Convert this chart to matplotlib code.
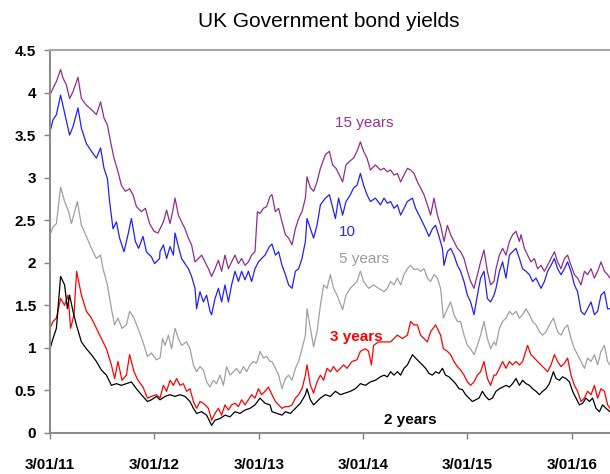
import numpy as np
import pandas as pd
import matplotlib
matplotlib.use('Agg')
import matplotlib.pyplot as plt

plt.rcParams['font.family'] = ['Liberation Sans', 'DejaVu Sans']

# x positions are weeks after 3 Jan 2011
wk_15 = [0.0, 1.5, 3.2, 5.3, 6.5, 8.2, 9.8, 11.5, 14.0, 15.7, 18.2, 20.7, 23.2, 25.3, 27.0, 28.7, 30.3, 32.0, 34.0, 35.7,
         37.7, 39.8, 41.5, 43.2, 45.7, 47.7, 49.8, 52.0, 54.0,
         55.0, 56.7, 58.3, 60.0, 61.3, 62.5, 64.2, 65.8, 67.5, 69.2, 70.8, 72.5, 74.2, 75.8, 77.5, 79.2, 80.8, 82.5,
         84.2, 85.8, 87.5, 89.2, 90.8, 92.5, 94.2, 95.8, 97.5, 99.2, 100.8, 102.5, 103.7, 105.0, 106.7, 108.3, 110.0,
         111.0, 112.7, 114.3, 116.0, 117.7, 119.3, 121.0, 122.7, 124.3, 126.0, 127.7, 128.5, 130.2, 131.8, 133.5,
         135.2, 137.7, 139.7, 141.3, 143.0, 144.7, 146.3, 148.0, 149.7, 151.8, 153.5, 155.2, 156.8, 158.5, 160.2,
         162.7, 165.2,
         167.0, 168.7, 170.3, 172.0, 173.7, 175.3, 177.0, 178.7, 180.3, 182.0, 183.7, 185.3, 187.0, 188.7, 190.3,
         192.0, 193.7, 195.3, 197.0, 198.7, 200.3, 202.0, 203.7, 205.3, 207.0, 208.7, 210.3, 212.0, 213.7, 215.3,
         217.0, 218.7, 220.3, 222.0,
         223.0, 224.7, 226.3, 228.0, 229.7, 231.3, 233.0, 234.7, 235.5, 237.2, 238.8, 240.5, 242.2, 243.8, 245.5,
         247.2, 248.8, 250.5, 252.2, 253.8, 255.5, 257.2, 258.8, 260.5, 262.2, 263.8, 265.5, 267.2, 268.8, 270.5,
         272.2, 273.8, 275.5, 277.2, 278.8, 280.0]
y_15 = [3.97, 4.05, 4.13, 4.27, 4.17, 4.09, 3.93, 4.01, 4.18, 3.93, 3.85, 3.80, 3.74, 3.89, 3.70, 3.62, 3.42, 3.23, 3.07, 2.91,
        2.84, 2.87, 2.80, 2.66, 2.60, 2.64, 2.46, 2.37, 2.35,
        2.40, 2.48, 2.62, 2.46, 2.60, 2.76, 2.56, 2.48, 2.40, 2.29, 2.21, 2.01, 2.05, 2.09, 2.01, 1.93, 1.84, 1.93,
        2.03, 1.90, 2.09, 1.93, 2.01, 2.09, 1.99, 2.05, 1.97, 2.01, 2.09, 2.13, 2.60, 2.58, 2.64, 2.66, 2.78,
        2.80, 2.60, 2.64, 2.48, 2.33, 2.29, 2.21, 2.40, 2.52, 2.60, 2.76, 3.01, 2.88, 2.84, 2.95,
        3.11, 3.27, 3.31, 3.15, 3.11, 3.03, 2.95, 3.15, 3.19, 3.23, 3.31, 3.42, 3.31, 3.23, 3.09,
        3.15, 3.09,
        3.11, 3.07, 3.09, 3.03, 3.05, 2.95, 3.03, 3.11, 3.09, 3.05, 2.95, 2.88, 2.80, 2.68, 2.56,
        2.76, 2.56, 2.44, 2.25, 2.44, 2.33, 2.25, 2.17, 2.13, 2.05, 1.90, 1.78, 1.70, 1.86, 2.01,
        2.15, 1.90, 1.74, 1.78,
        1.93, 2.09, 2.17, 2.09, 2.25, 2.33, 2.37, 2.25, 2.33, 2.17, 2.09, 2.01, 2.05, 1.93, 1.97,
        1.90, 1.97, 2.05, 2.13, 2.01, 1.93, 2.05, 2.09, 1.97, 1.86, 1.82, 1.74, 1.90, 1.86, 1.93,
        1.82, 1.90, 2.01, 1.90, 1.86, 1.82]

wk_10 = [0.0, 1.5, 3.2, 5.3, 7.3, 9.8, 11.5, 14.0, 15.7, 18.2, 20.7, 23.2, 25.3, 27.0, 28.7, 29.8, 31.5, 33.2, 34.8, 37.0,
         39.0, 40.7, 42.7, 44.3, 46.5, 48.2, 50.7, 52.3, 54.8,
         55.0, 56.7, 58.3, 60.0, 61.7, 62.5, 64.2, 65.8, 67.5, 69.2, 70.8, 72.5, 73.3, 75.0, 76.7, 78.3, 80.0, 80.8,
         82.5, 84.2, 85.8, 87.5, 89.2, 90.8, 92.5, 94.2, 95.8, 97.5, 99.2, 100.8, 102.5, 104.2, 105.8, 107.5, 109.7,
         111.0, 112.7, 114.3, 116.0, 117.7, 119.3, 121.0, 122.7, 124.3, 126.0, 127.7, 128.5, 130.2, 131.8, 133.5,
         135.2, 137.7, 139.7, 141.0, 142.7, 144.3, 146.3, 148.0, 150.2, 151.8, 153.5, 155.2, 156.8, 158.5, 160.2,
         162.7, 165.2,
         167.0, 168.7, 170.3, 172.0, 173.7, 175.3, 177.0, 178.7, 181.2, 182.8, 184.5, 186.2, 187.8, 189.5, 191.2,
         192.8, 194.5, 196.2, 197.0, 198.7, 200.3, 202.0, 203.7, 205.3, 207.0, 208.7, 210.3, 212.0, 213.7, 215.3,
         217.0, 218.7, 220.3, 222.0,
         223.0, 224.7, 226.3, 228.0, 229.7, 231.3, 233.0, 234.7, 236.3, 238.0, 239.7, 241.3, 243.0, 245.5, 247.2,
         248.8, 250.5, 252.2, 253.8, 255.5, 257.2, 258.8, 260.5, 262.2, 263.8, 265.5, 267.2, 268.8, 270.5, 272.2,
         273.8, 275.5, 277.2, 278.8, 280.0]
y_10 = [3.54, 3.68, 3.74, 3.97, 3.76, 3.50, 3.60, 3.82, 3.58, 3.40, 3.31, 3.23, 3.35, 3.11, 2.99, 2.72, 2.40, 2.48, 2.29, 2.13,
        2.33, 2.52, 2.25, 2.17, 2.31, 2.13, 2.07, 1.99, 2.05,
        2.13, 2.21, 2.05, 2.19, 2.09, 2.35, 2.19, 2.05, 1.99, 1.93, 1.84, 1.70, 1.46, 1.66, 1.54, 1.62, 1.43, 1.39,
        1.58, 1.70, 1.54, 1.74, 1.54, 1.74, 1.90, 1.78, 1.90, 1.80, 1.90, 1.78, 1.93, 2.01, 2.05, 2.09, 2.19,
        2.22, 2.09, 2.13, 1.97, 1.86, 1.74, 1.70, 1.90, 1.93, 2.05, 2.25, 2.52, 2.40, 2.29, 2.44,
        2.68, 2.76, 2.80, 2.68, 2.52, 2.76, 2.56, 2.72, 2.80, 2.88, 2.91, 3.05, 2.91, 2.80, 2.72,
        2.76, 2.68,
        2.76, 2.70, 2.72, 2.64, 2.68, 2.56, 2.64, 2.72, 2.76, 2.64, 2.56, 2.48, 2.40, 2.31, 2.40,
        2.44, 2.31, 2.17, 1.97, 2.13, 2.17, 2.09, 1.97, 1.90, 1.78, 1.62, 1.54, 1.39, 1.62, 1.82,
        1.90, 1.58, 1.54, 1.62,
        1.70, 1.90, 2.01, 1.82, 2.09, 2.13, 2.17, 2.05, 1.93, 1.90, 1.86, 1.78, 1.82, 1.70, 1.78,
        1.90, 1.97, 2.05, 1.93, 1.86, 1.93, 2.01, 1.90, 1.74, 1.66, 1.43, 1.39, 1.46, 1.54, 1.39,
        1.43, 1.62, 1.66, 1.46, 1.46]

wk_5 = [0.0, 1.5, 3.2, 5.3, 7.3, 9.3, 10.7, 13.7, 15.7, 18.2, 20.7, 23.2, 25.3, 26.5, 28.7, 30.7, 32.3, 34.0, 36.0, 38.2,
        39.8, 42.0, 44.0, 46.5, 48.7, 50.7, 53.2,
        55.0, 56.3, 57.5, 59.2, 60.8, 62.5, 64.2, 65.8, 68.3, 70.0, 71.7, 73.3, 75.0, 76.7, 78.3, 80.0, 81.7, 83.3,
        85.0, 86.7, 88.3, 90.0, 91.7, 93.3, 95.0, 96.7, 98.3, 100.0, 101.7, 103.3, 105.0, 106.7, 108.3, 110.0,
        111.0, 112.7, 114.3, 116.0, 117.7, 119.3, 121.0, 122.7, 124.3, 126.0, 127.7, 128.5, 130.2, 131.8, 133.5,
        135.2, 136.8, 138.5, 140.2, 141.8, 143.5, 146.3, 148.0, 150.2, 151.8, 153.5, 155.2, 156.8, 159.3, 161.8,
        164.3,
        167.0, 168.7, 170.3, 172.0, 173.7, 175.3, 177.0, 178.7, 180.3, 182.0, 183.7, 185.3, 187.0, 188.7, 190.3,
        192.0, 193.7, 195.3, 196.7, 198.7, 200.3, 202.0, 203.7, 205.3, 207.0, 208.7, 210.3, 212.0, 213.7, 215.3,
        217.0, 218.7, 220.3, 222.0,
        223.0, 224.7, 226.3, 228.0, 229.7, 231.3, 233.0, 234.7, 236.3, 238.0, 239.7, 241.3, 243.0, 244.7, 246.3,
        248.0, 249.7, 251.7, 253.8, 255.5, 257.2, 258.8, 260.5, 262.2, 263.8, 265.5, 267.2, 268.8, 270.5, 272.2,
        273.8, 275.5, 277.2, 278.8, 280.0]
y_5 = [2.33, 2.42, 2.46, 2.89, 2.72, 2.60, 2.46, 2.72, 2.44, 2.31, 2.17, 2.05, 2.09, 1.93, 1.74, 1.46, 1.27, 1.35, 1.23, 1.27,
       1.43, 1.35, 1.23, 1.07, 0.90, 0.94, 0.86,
       0.88, 1.11, 1.03, 1.15, 0.99, 1.23, 1.11, 1.03, 1.07, 0.99, 0.80, 0.72, 0.78, 0.74, 0.60, 0.54, 0.62, 0.58,
       0.68, 0.56, 0.78, 0.68, 0.72, 0.76, 0.70, 0.78, 0.72, 0.80, 0.84, 0.82, 0.96, 0.88, 0.90, 0.84,
       0.84, 0.76, 0.68, 0.52, 0.64, 0.68, 0.62, 0.76, 0.84, 0.99, 1.15, 1.46, 1.23, 1.01, 1.19,
       1.50, 1.74, 1.70, 1.86, 1.70, 1.62, 1.45, 1.62, 1.70, 1.74, 1.78, 1.90, 1.78, 1.70, 1.74,
       1.70,
       1.66, 1.70, 1.78, 1.74, 1.82, 1.74, 1.86, 1.93, 1.97, 1.92, 1.93, 1.90, 1.93, 1.82, 1.78,
       1.86, 1.82, 1.70, 1.35, 1.46, 1.54, 1.39, 1.31, 1.31, 1.15, 1.03, 0.99, 0.92, 1.03, 1.15,
       1.31, 1.11, 0.99, 1.07,
       1.03, 1.23, 1.31, 1.35, 1.43, 1.39, 1.43, 1.35, 1.39, 1.46, 1.39, 1.31, 1.27, 1.19, 1.15,
       1.19, 1.27, 1.35, 1.19, 1.15, 1.23, 1.27, 1.11, 0.99, 0.92, 0.84, 0.76, 0.88, 0.84, 0.92,
       0.80, 0.96, 1.03, 0.84, 0.80]

wk_3 = [0.0, 1.5, 3.2, 5.3, 7.3, 9.0, 10.3, 12.0, 13.3, 15.7, 18.2, 20.7, 23.2, 25.7, 28.2, 30.7, 32.3, 34.0, 36.0, 38.2,
        39.8, 42.0, 44.0, 46.5, 48.7, 50.7, 53.2,
        55.0, 56.7, 58.3, 60.0, 61.7, 63.3, 65.0, 66.7, 68.3, 70.0, 71.7, 73.3, 75.0, 76.7, 79.2, 80.8, 82.5, 84.2,
        85.8, 87.5, 89.2, 90.8, 92.5, 94.2, 95.8, 97.5, 99.2, 100.8, 102.5, 104.2, 105.8, 107.5, 109.2,
        111.0, 112.7, 114.3, 116.0, 117.7, 119.3, 121.0, 122.7, 124.3, 126.0, 127.7, 128.5, 130.2, 131.8, 133.5,
        135.2, 136.8, 138.5, 140.2, 141.8, 143.5, 145.2, 146.8, 148.5, 151.0, 153.5, 155.2, 157.7, 159.3, 160.7,
        161.8, 164.3,
        167.0, 170.3, 173.7, 176.2, 178.7, 180.3, 182.0, 183.7, 185.3, 188.7, 190.3, 192.8, 195.3, 196.7, 198.7,
        200.3, 202.0, 203.7, 205.3, 207.0, 208.7, 210.3, 212.0, 213.7, 215.3, 217.0, 218.7, 220.3, 222.0,
        223.0, 224.7, 226.3, 228.0, 229.7, 231.3, 233.0, 234.7, 236.3, 238.8, 240.5, 242.2, 243.8, 245.5, 247.2,
        248.8, 250.5, 252.2, 253.8, 255.5, 257.2, 258.8, 260.5, 262.2, 263.8, 265.5, 267.2, 268.8, 270.5, 272.2,
        273.8, 275.5, 277.2, 278.8, 280.0]
y_3 = [1.23, 1.31, 1.35, 1.58, 1.50, 1.62, 1.23, 1.39, 1.90, 1.62, 1.43, 1.35, 1.23, 1.11, 0.99, 0.80, 0.64, 0.84, 0.62, 0.68,
       0.92, 0.72, 0.62, 0.54, 0.41, 0.43, 0.45,
       0.41, 0.56, 0.49, 0.62, 0.56, 0.64, 0.56, 0.58, 0.49, 0.52, 0.37, 0.29, 0.37, 0.35, 0.29, 0.15, 0.23, 0.29,
       0.21, 0.33, 0.27, 0.33, 0.35, 0.31, 0.39, 0.33, 0.39, 0.45, 0.41, 0.52, 0.45, 0.49, 0.54,
       0.45, 0.37, 0.33, 0.29, 0.31, 0.31, 0.33, 0.41, 0.45, 0.52, 0.68, 0.80, 0.56, 0.47, 0.60,
       0.68, 0.62, 0.76, 0.72, 0.78, 0.72, 0.76, 0.80, 0.76, 0.84, 0.86, 0.96, 0.99, 0.96, 0.80,
       1.03, 1.07,
       1.07, 1.07, 1.15, 1.11, 1.15, 1.31, 1.27, 1.27, 1.15, 1.07, 1.19, 1.27, 1.15, 0.99, 0.96,
       0.92, 0.84, 0.78, 0.74, 0.68, 0.60, 0.56, 0.60, 0.68, 0.72, 0.84, 0.64, 0.56, 0.68,
       0.68, 0.76, 0.84, 0.76, 0.84, 0.80, 0.84, 0.80, 0.84, 1.03, 0.92, 0.88, 0.84, 0.80, 0.76,
       0.72, 0.80, 0.92, 0.84, 0.78, 0.82, 0.88, 0.68, 0.56, 0.49, 0.37, 0.41, 0.49, 0.45, 0.56,
       0.41, 0.52, 0.49, 0.33, 0.29]

wk_2 = [0.0, 1.5, 3.2, 5.3, 7.3, 8.7, 9.8, 11.5, 13.2, 15.7, 18.2, 20.7, 23.2, 25.7, 28.2, 30.7, 33.2, 35.7, 38.2, 40.7,
        43.2, 45.7, 48.7, 50.7, 53.2,
        55.0, 57.5, 60.0, 62.5, 65.0, 67.5, 70.0, 71.7, 73.3, 75.8, 78.3, 80.8, 82.5, 85.0, 87.5, 90.0, 92.5, 95.0,
        97.5, 100.0, 102.5, 105.0, 107.5, 110.0,
        111.0, 113.5, 116.0, 117.7, 120.2, 122.7, 125.2, 127.7, 128.5, 130.2, 131.8, 135.2, 137.7, 140.2, 142.7,
        145.2, 147.7, 150.2, 152.7, 155.2, 157.7, 160.2, 162.7, 165.2,
        167.0, 168.7, 170.3, 172.0, 173.7, 175.3, 177.0, 178.7, 181.2, 182.8, 184.5, 186.2, 187.8, 189.5, 191.2,
        192.8, 194.5, 196.2, 197.8, 199.5, 201.2, 202.8, 204.5, 206.2, 207.8, 209.5, 211.2, 212.8, 214.5, 216.2,
        217.8, 219.5, 221.2,
        223.0, 224.7, 226.3, 228.0, 229.7, 231.3, 233.0, 234.7, 236.3, 238.0, 239.7, 241.3, 243.0, 244.7, 246.3,
        248.0, 249.7, 251.7, 253.0, 254.7, 256.3, 258.0, 259.7, 261.3, 263.0, 264.7, 266.3, 268.0, 269.7, 271.3,
        273.0, 274.7, 276.3, 278.0, 280.0]
y_2 = [0.99, 1.11, 1.23, 1.84, 1.74, 1.46, 1.62, 1.43, 1.27, 1.07, 0.99, 0.92, 0.84, 0.74, 0.68, 0.56, 0.58, 0.56, 0.58, 0.60,
       0.52, 0.45, 0.37, 0.39, 0.43,
       0.39, 0.43, 0.45, 0.43, 0.45, 0.43, 0.37, 0.29, 0.23, 0.25, 0.21, 0.09, 0.15, 0.17, 0.21, 0.19, 0.25, 0.23,
       0.27, 0.29, 0.33, 0.41, 0.35, 0.33,
       0.25, 0.23, 0.21, 0.25, 0.23, 0.29, 0.35, 0.45, 0.52, 0.39, 0.33, 0.41, 0.45, 0.43, 0.49,
       0.45, 0.47, 0.49, 0.52, 0.58, 0.56, 0.60, 0.62, 0.66,
       0.68, 0.66, 0.72, 0.68, 0.72, 0.68, 0.76, 0.80, 0.92, 0.88, 0.84, 0.80, 0.76, 0.70, 0.68,
       0.72, 0.70, 0.76, 0.68, 0.66, 0.62, 0.58, 0.52, 0.51, 0.45, 0.41, 0.37, 0.39, 0.41, 0.49,
       0.43, 0.39, 0.41,
       0.49, 0.52, 0.54, 0.56, 0.54, 0.58, 0.64, 0.56, 0.62, 0.58, 0.56, 0.52, 0.49, 0.45, 0.49,
       0.52, 0.58, 0.72, 0.64, 0.62, 0.66, 0.64, 0.60, 0.49, 0.41, 0.33, 0.35, 0.41, 0.37, 0.41,
       0.29, 0.25, 0.33, 0.29, 0.25]

series = [
    (wk_15, y_15, '#8E2E8E'),
    (wk_10, y_10, '#2020FF'),
    (wk_5, y_5, '#A0A0A0'),
    (wk_3, y_3, '#FF0000'),
    (wk_2, y_2, '#000000'),
]

tick_years = [2011, 2012, 2013, 2014, 2015, 2016]
tick_labels = ['3/01/11', '3/01/12', '3/01/13', '3/01/14', '3/01/15', '3/01/16']

start = pd.Timestamp('2011-01-03')


def to_dates(weeks):
    return start + pd.to_timedelta(np.asarray(weeks) * 7, unit='D')


fig = plt.figure(figsize=(6.1, 4.74), dpi=100)
ax = fig.add_axes([50 / 610, 41 / 474, 560 / 610, 383 / 474])

for wk, vals, col in series:
    ax.plot(to_dates(wk), vals, color=col, lw=0.9)

ax.set_xlim(start, start + pd.Timedelta(days=280 * 7))
ax.set_ylim(0, 4.5)
ax.set_yticks(np.arange(0, 4.51, 0.5))
ax.set_yticklabels(['0', '0.5', '1', '1.5', '2', '2.5', '3', '3.5', '4', '4.5'])
ax.set_xticks([pd.Timestamp(f'{y}-01-03') for y in tick_years])
ax.set_xticklabels(tick_labels)

for lab in ax.get_xticklabels() + ax.get_yticklabels():
    lab.set_fontweight('bold')
    lab.set_fontsize(11)

ax.tick_params(axis='y', direction='out', length=4, width=1, color='#808080', pad=6)
ax.tick_params(axis='x', direction='out', length=4, width=1, color='#808080', pad=14)

for s in ['left', 'bottom']:
    ax.spines[s].set_color('#8C8C8C')
    ax.spines[s].set_linewidth(1.5)
ax.spines['top'].set_color('#A8A8A8')
ax.spines['top'].set_linewidth(1.5)
ax.spines['right'].set_visible(False)

fig.text(0.539, 0.954, 'UK Government bond yields', ha='center', va='center', fontsize=15)

# series labels, placed in axes fractions
ax.text((364 - 50) / 560, (433 - 123) / 383, '15 years', color='#963296', fontsize=11,
        ha='center', va='center', transform=ax.transAxes)
ax.text((347 - 50) / 560, (433 - 232) / 383, '10', color='#2828FF', fontsize=11,
        ha='center', va='center', transform=ax.transAxes)
ax.text((364 - 50) / 560, (433 - 259) / 383, '5 years', color='#9A9A9A', fontsize=11,
        ha='center', va='center', transform=ax.transAxes)
ax.text((356 - 50) / 560, (433 - 337) / 383, '3 years', color='#FF0000', fontsize=11, fontweight='bold',
        ha='center', va='center', transform=ax.transAxes)
ax.text((410 - 50) / 560, (433 - 420) / 383, '2 years', color='#000000', fontsize=11, fontweight='bold',
        ha='center', va='center', transform=ax.transAxes)

fig.savefig('out.png', dpi=100)
